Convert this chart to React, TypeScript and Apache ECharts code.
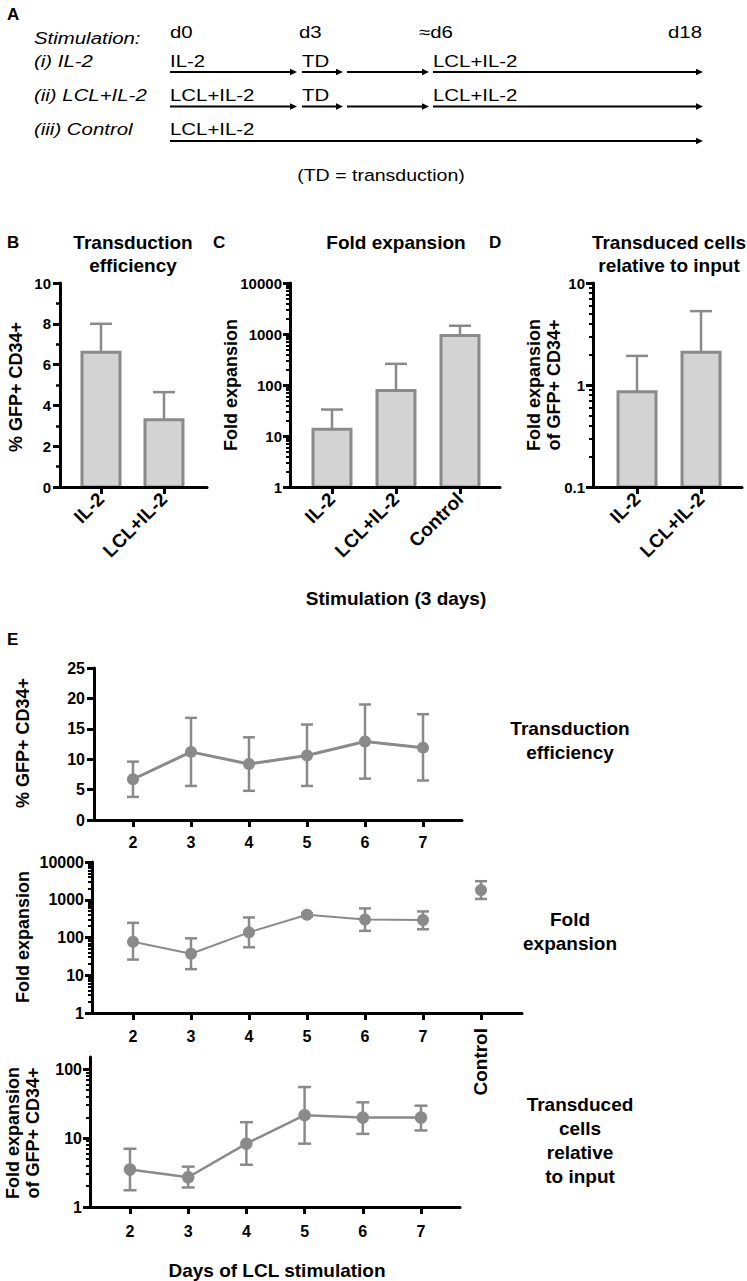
import React, { useEffect, useRef } from 'react';
import * as echarts from 'echarts';

const FONT = '"Liberation Sans", Arial, Helvetica, sans-serif';
const GRAY = '#8a8a8a';
const BAR_FILL = '#d3d3d3';
const INK = '#000000';

// ---- Panel B: transduction efficiency (3-day stimulation)
const B_CATS = ['IL-2', 'LCL+IL-2'];
const B_MEAN = [6.6, 3.3];
const B_UPPER = [8.0, 4.65];

// ---- Panel C: fold expansion
const C_CATS = ['IL-2', 'LCL+IL-2', 'Control'];
const C_MEAN = [13.5, 78, 930];
const C_UPPER = [33, 260, 1450];
const C_TICKS = [1, 10, 100, 1000, 10000];

// ---- Panel D: transduced cells relative to input
const D_CATS = ['IL-2', 'LCL+IL-2'];
const D_MEAN = [0.86, 2.1];
const D_UPPER = [1.93, 5.3];
const D_TICKS = [0.1, 1, 10];

// ---- Panel E
const DAYS = [2, 3, 4, 5, 6, 7];
const E1_MEAN = [6.7, 11.2, 9.2, 10.6, 12.9, 11.9];
const E1_LOW = [3.8, 5.6, 4.8, 5.6, 6.8, 6.5];
const E1_HIGH = [9.6, 16.8, 13.6, 15.7, 19.0, 17.4];

const E2_MEAN = [77, 37, 137, 400, 300, 290];
const E2_LOW = [26, 14.5, 55, 360, 150, 165];
const E2_HIGH = [245, 95, 340, 440, 590, 490];
const E2_CONTROL_X = [8];
const E2_CONTROL_MEAN = [1800];
const E2_CONTROL_LOW = [1050];
const E2_CONTROL_HIGH = [3100];
const E2_TICKS = [1, 10, 100, 1000, 10000];

const E3_MEAN = [3.5, 2.7, 8.3, 21.5, 19.8, 19.8];
const E3_LOW = [1.75, 1.92, 4.1, 8.3, 11.5, 12.9];
const E3_HIGH = [7.0, 3.85, 17, 55, 33, 29.5];
const E3_TICKS = [1, 10, 100];

function logMinors(minExp: number, maxExp: number): number[] {
  const out: number[] = [];
  for (let e = minExp; e < maxExp; e++) {
    for (let m = 2; m <= 9; m++) out.push(+(m * Math.pow(10, e)).toPrecision(6));
  }
  return out;
}

const tickLabelStyle = (size: number) => ({
  color: INK,
  fontFamily: FONT,
  fontWeight: 'bold' as const,
  fontSize: size,
});

function xAxisValue(gridIndex: number, min: number, max: number, values: number[], formatter: any, rotate: number, margin: number, size: number, opts: any = {}) {
  return {
    type: 'value',
    gridIndex,
    min,
    max,
    position: 'bottom',
    z: 5,
    axisLine: { show: opts.noLine ? false : true, onZero: false, lineStyle: { color: INK, width: 3 } },
    axisTick: { show: true, customValues: opts.tickValues || values, length: 7, lineStyle: { color: INK, width: 3 } },
    axisLabel: { show: true, customValues: values, formatter, rotate, margin, ...tickLabelStyle(size) },
    splitLine: { show: false },
    minorTick: { show: false },
  };
}

function yAxisLinear(gridIndex: number, min: number, max: number, interval: number, minorSplit: number, margin: number, size: number) {
  return {
    type: 'value',
    gridIndex,
    min,
    max,
    interval,
    position: 'left',
    z: 5,
    axisLine: { show: true, onZero: false, lineStyle: { color: INK, width: 3 } },
    axisTick: { show: true, length: 7, lineStyle: { color: INK, width: 3 } },
    axisLabel: { show: true, margin, formatter: (v: number) => String(v), ...tickLabelStyle(size) },
    splitLine: { show: false },
    minorTick: minorSplit > 0 ? { show: true, splitNumber: minorSplit, length: 4, lineStyle: { color: INK, width: 2.5 } } : { show: false },
    minorSplitLine: { show: false },
  };
}

function yAxisLog(gridIndex: number, min: number, max: number, majors: number[], minors: number[], margin: number, size: number) {
  return [
    {
      type: 'log',
      logBase: 10,
      gridIndex,
      min,
      max,
      position: 'left',
      z: 5,
      axisLine: { show: true, onZero: false, lineStyle: { color: INK, width: 3 } },
      axisTick: { show: true, customValues: majors, length: 7, lineStyle: { color: INK, width: 3 } },
      axisLabel: { show: true, customValues: majors, margin, formatter: (v: number) => String(v), ...tickLabelStyle(size) },
      splitLine: { show: false },
    },
    {
      type: 'log',
      logBase: 10,
      gridIndex,
      min,
      max,
      position: 'left',
      z: 5,
      axisLine: { show: false, onZero: false },
      axisTick: { show: true, customValues: minors, length: 4, lineStyle: { color: INK, width: 2 } },
      axisLabel: { show: false },
      splitLine: { show: false },
    },
  ];
}

function errorSeries(xi: number, yi: number, data: number[][], cap: number, width: number, upperOnly: boolean, z: number) {
  return {
    type: 'custom',
    xAxisIndex: xi,
    yAxisIndex: yi,
    z,
    silent: true,
    data,
    encode: { x: 0, y: [1, 2] },
    renderItem: (_p: any, api: any) => {
      const x = api.value(0);
      const lo = api.value(1);
      const hi = api.value(2);
      const a = api.coord([x, hi]);
      const b = api.coord([x, lo]);
      const st = { stroke: GRAY, lineWidth: width, fill: 'none' };
      const children: any[] = [
        { type: 'line', shape: { x1: a[0], y1: a[1], x2: b[0], y2: b[1] }, style: st },
        { type: 'line', shape: { x1: a[0] - cap / 2, y1: a[1], x2: a[0] + cap / 2, y2: a[1] }, style: st },
      ];
      if (!upperOnly) {
        children.push({ type: 'line', shape: { x1: b[0] - cap / 2, y1: b[1], x2: b[0] + cap / 2, y2: b[1] }, style: st });
      }
      return { type: 'group', children };
    },
  };
}

function barSeries(xi: number, yi: number, means: number[], baseVal: number) {
  return {
    type: 'custom',
    xAxisIndex: xi,
    yAxisIndex: yi,
    z: 3,
    silent: true,
    data: means.map((v, i) => [i + 1, v]),
    encode: { x: 0, y: 1 },
    renderItem: (_p: any, api: any) => {
      const x = api.value(0);
      const v = api.value(1);
      const top = api.coord([x, v]);
      const base = api.coord([x, baseVal]);
      const w = 38;
      return {
        type: 'rect',
        shape: { x: top[0] - w / 2, y: top[1], width: w, height: base[1] - top[1] },
        style: { fill: BAR_FILL, stroke: GRAY, lineWidth: 3 },
      };
    },
  };
}

function lineSeries(xi: number, yi: number, xs: number[], ys: number[], size: number, width: number) {
  return {
    type: 'line',
    xAxisIndex: xi,
    yAxisIndex: yi,
    z: 4,
    silent: true,
    data: xs.map((x, i) => [x, ys[i]]),
    symbol: 'circle',
    symbolSize: size,
    showSymbol: true,
    itemStyle: { color: GRAY },
    lineStyle: { color: GRAY, width },
  };
}

// ---- graphic helpers
function txt(text: string, x: number, y: number, o: any = {}) {
  return {
    type: 'text',
    x,
    y,
    rotation: o.rotation || 0,
    scaleX: o.scaleX || 1,
    silent: true,
    style: {
      text,
      fill: INK,
      fontFamily: FONT,
      fontSize: o.size || 16,
      fontWeight: o.bold ? 'bold' : 'normal',
      fontStyle: o.italic ? 'italic' : 'normal',
      align: o.align || 'left',
      verticalAlign: 'middle',
      lineHeight: o.lineHeight || Math.round((o.size || 16) * 1.2),
    },
  };
}

function arrow(x1: number, x2: number, y: number) {
  return [
    { type: 'line', silent: true, shape: { x1, y1: y, x2: x2 - 4, y2: y }, style: { stroke: INK, lineWidth: 1.8 } },
    { type: 'polygon', silent: true, shape: { points: [[x2, y], [x2 - 7, y - 3.2], [x2 - 7, y + 3.2]] }, style: { fill: INK } },
  ];
}

const A_FS = 17;
const A_SX = 1.2;
const aItal = (t: string, x: number, y: number) => txt(t, x, y, { size: A_FS, italic: true, scaleX: A_SX });
const aReg = (t: string, x: number, y: number, align = 'left') => txt(t, x, y, { size: A_FS, scaleX: A_SX, align });

const ROW_Y = [72, 106.5, 141];
const ROW_TY = [61.5, 95.5, 129.5];

export default function App() {
  const ref = useRef<HTMLDivElement>(null);

  useEffect(() => {
    if (!ref.current) return;
    const chart = echarts.init(ref.current, undefined, { renderer: 'svg' });

    const grids = [
      { left: 60, top: 283, width: 147, height: 204 }, // B
      { left: 290, top: 283, width: 210, height: 204 }, // C
      { left: 593, top: 283, width: 149, height: 204 }, // D
      { left: 94, top: 668, width: 368, height: 152 }, // E1
      { left: 92, top: 862, width: 430, height: 151 }, // E2
      { left: 90, top: 1057, width: 370, height: 150 }, // E3
    ].map((g) => ({ ...g, containLabel: false, outerBoundsMode: 'none', show: false }));

    const xAxes = [
      xAxisValue(0, 0.349, 2.683, [1, 2], (v: number) => B_CATS[Math.round(v) - 1], 45, 9, 19),
      xAxisValue(1, 0.344, 3.625, [1, 2, 3], (v: number) => C_CATS[Math.round(v) - 1], 45, 9, 19),
      xAxisValue(2, 0.3125, 2.64, [1, 2], (v: number) => D_CATS[Math.round(v) - 1], 45, 9, 19),
      xAxisValue(3, 1.328, 7.672, DAYS, (v: number) => String(v), 0, 14, 16),
      xAxisValue(4, 1.293, 8.707, DAYS, (v: number) => String(v), 0, 15, 16, { tickValues: [...DAYS, ...E2_CONTROL_X] }),
      xAxisValue(4, 1.293, 8.707, E2_CONTROL_X, () => 'Control', 90, 15, 19, { noLine: true, tickValues: E2_CONTROL_X }),
      xAxisValue(5, 1.313, 7.67, DAYS, (v: number) => String(v), 0, 16, 16),
    ];

    const yAxes = [
      yAxisLinear(0, 0, 10, 2, 2, 9, 15), // 0 B
      ...yAxisLog(1, 1, 10000, C_TICKS, logMinors(0, 4), 8, 15), // 1,2 C
      ...yAxisLog(2, 0.1, 10, D_TICKS, logMinors(-1, 1), 8, 15), // 3,4 D
      yAxisLinear(3, 0, 25, 5, 0, 9, 16), // 5 E1
      ...yAxisLog(4, 1, 10000, E2_TICKS, logMinors(0, 4), 8, 16), // 6,7 E2
      ...yAxisLog(5, 1, 150, E3_TICKS, logMinors(0, 2), 8, 16), // 8,9 E3
    ];

    const series: any[] = [
      // B
      errorSeries(0, 0, B_MEAN.map((m, i) => [i + 1, m, B_UPPER[i]]), 22, 2.5, true, 2),
      barSeries(0, 0, B_MEAN, 0),
      // C
      errorSeries(1, 1, C_MEAN.map((m, i) => [i + 1, m, C_UPPER[i]]), 22, 2.5, true, 2),
      barSeries(1, 1, C_MEAN, 1),
      // D
      errorSeries(2, 3, D_MEAN.map((m, i) => [i + 1, m, D_UPPER[i]]), 22, 2.5, true, 2),
      barSeries(2, 3, D_MEAN, 0.1),
      // E1
      errorSeries(3, 5, DAYS.map((d, i) => [d, E1_LOW[i], E1_HIGH[i]]), 12, 2.5, false, 2),
      lineSeries(3, 5, DAYS, E1_MEAN, 12, 3),
      // E2
      errorSeries(4, 6, DAYS.map((d, i) => [d, E2_LOW[i], E2_HIGH[i]]), 12, 2.5, false, 2),
      lineSeries(4, 6, DAYS, E2_MEAN, 12, 2),
      errorSeries(4, 6, E2_CONTROL_X.map((d, i) => [d, E2_CONTROL_LOW[i], E2_CONTROL_HIGH[i]]), 12, 2.5, false, 2),
      {
        type: 'scatter',
        xAxisIndex: 4,
        yAxisIndex: 6,
        z: 4,
        silent: true,
        data: E2_CONTROL_X.map((d, i) => [d, E2_CONTROL_MEAN[i]]),
        symbol: 'circle',
        symbolSize: 12,
        itemStyle: { color: GRAY, opacity: 1 },
      },
      // E3
      errorSeries(6, 8, DAYS.map((d, i) => [d, E3_LOW[i], E3_HIGH[i]]), 13, 2.5, false, 2),
      lineSeries(6, 8, DAYS, E3_MEAN, 12.5, 2.5),
    ];

    const graphics: any[] = [
      // Panel A
      txt('A', 7, 14, { size: 17, bold: true }),
      aItal('Stimulation:', 34, 38.5),
      aItal('(i) IL-2', 34, ROW_TY[0]),
      aItal('(ii) LCL+IL-2', 34, ROW_TY[1]),
      aItal('(iii) Control', 34, ROW_TY[2]),
      aReg('d0', 170, 32.5),
      aReg('d3', 299, 32.5),
      aReg('\u2248d6', 419, 32.5),
      aReg('d18', 668, 32.5),
      aReg('IL-2', 170, ROW_TY[0]),
      aReg('TD', 302, ROW_TY[0]),
      aReg('LCL+IL-2', 433, ROW_TY[0]),
      aReg('LCL+IL-2', 170, ROW_TY[1]),
      aReg('TD', 302, ROW_TY[1]),
      aReg('LCL+IL-2', 433, ROW_TY[1]),
      aReg('LCL+IL-2', 170, ROW_TY[2]),
      ...arrow(170, 297, ROW_Y[0]),
      ...arrow(302, 343, ROW_Y[0]),
      ...arrow(347, 429, ROW_Y[0]),
      ...arrow(433, 703, ROW_Y[0]),
      ...arrow(170, 297, ROW_Y[1]),
      ...arrow(302, 343, ROW_Y[1]),
      ...arrow(347, 429, ROW_Y[1]),
      ...arrow(433, 703, ROW_Y[1]),
      ...arrow(170, 703, ROW_Y[2]),
      txt('(TD = transduction)', 381, 175, { size: A_FS, scaleX: 1.15, align: 'center' }),

      // Panels B-D headers
      txt('B', 7, 242, { size: 17, bold: true }),
      txt('C', 213, 242, { size: 17, bold: true }),
      txt('D', 489, 242, { size: 17, bold: true }),
      txt('Transduction\nefficiency', 133, 253.5, { size: 19, bold: true, align: 'center', lineHeight: 23 }),
      txt('Fold expansion', 396, 242, { size: 19, bold: true, align: 'center' }),
      txt('Transduced cells\nrelative to input', 669, 253.5, { size: 19, bold: true, align: 'center', lineHeight: 23 }),

      // axis names B-D
      txt('% GFP+ CD34+', 16, 387, { size: 18, bold: true, align: 'center', rotation: Math.PI / 2 }),
      txt('Fold expansion', 231, 385, { size: 18, bold: true, align: 'center', rotation: Math.PI / 2 }),
      txt('Fold expansion\nof GFP+ CD34+', 544, 385, { size: 18, bold: true, align: 'center', rotation: Math.PI / 2, lineHeight: 20 }),
      txt('Stimulation (3 days)', 396, 598, { size: 19, bold: true, align: 'center' }),

      // Panel E
      txt('E', 7, 639, { size: 17, bold: true }),
      txt('% GFP+ CD34+', 23, 743, { size: 18, bold: true, align: 'center', rotation: Math.PI / 2 }),
      txt('Fold expansion', 23, 937, { size: 18, bold: true, align: 'center', rotation: Math.PI / 2 }),
      txt('Fold expansion\nof GFP+ CD34+', 23, 1133, { size: 18, bold: true, align: 'center', rotation: Math.PI / 2, lineHeight: 20 }),
      txt('Days of LCL stimulation', 277, 1270, { size: 19, bold: true, align: 'center' }),
      txt('Transduction\nefficiency', 570, 740, { size: 19, bold: true, align: 'center', lineHeight: 24 }),
      txt('Fold\nexpansion', 570, 931, { size: 19, bold: true, align: 'center', lineHeight: 24 }),
      txt('Transduced\ncells\nrelative\nto input', 580, 1140.5, { size: 19, bold: true, align: 'center', lineHeight: 23.7 }),
    ];

    chart.setOption({
      animation: false,
      backgroundColor: '#ffffff',
      textStyle: { fontFamily: FONT },
      grid: grids,
      xAxis: xAxes,
      yAxis: yAxes,
      series,
      graphic: { elements: graphics },
    });

    return () => {
      chart.dispose();
    };
  }, []);

  return (
    <div
      ref={ref}
      style={{ position: 'absolute', left: 0, top: 0, width: 747, height: 1281, background: '#fff' }}
    />
  );
}
